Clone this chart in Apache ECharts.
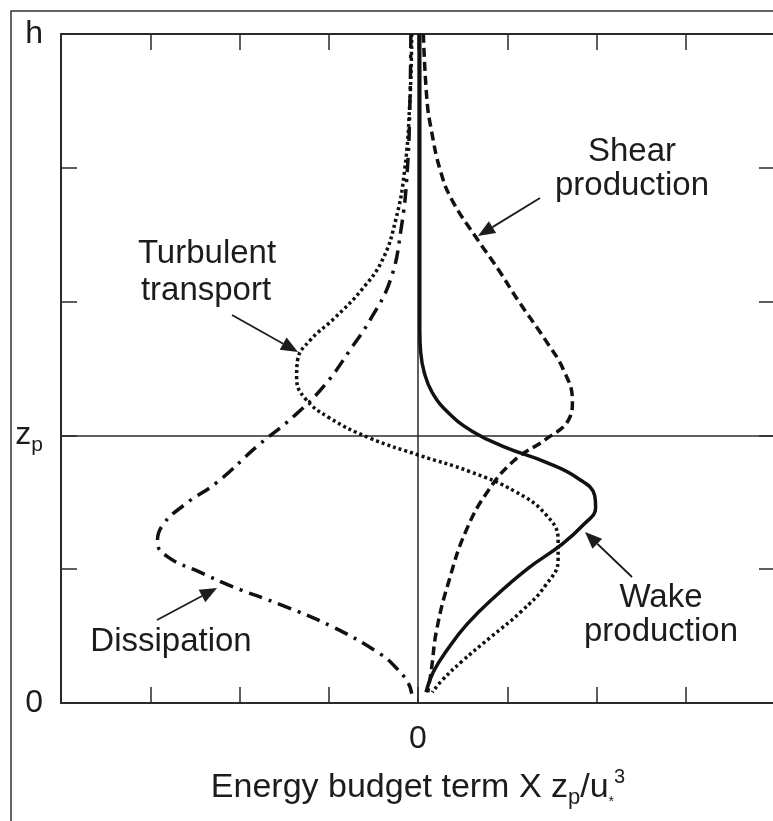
<!DOCTYPE html>
<html>
<head>
<meta charset="utf-8">
<script src="https://cdn.jsdelivr.net/npm/echarts@6/dist/echarts.min.js"></script>
<style>
html,body{margin:0;padding:0;background:#fff;}
#chart{width:773px;height:821px;}
</style>
</head>
<body>
<div id="chart"></div>
<script>
// ---- Data (energy budget term x zp/u*^3 vs height) ----
var wakeX  = [0.02, 0.02, 0.02, 0.03, 0.07, 0.16, 0.34, 0.61, 0.98, 1.43, 1.79, 1.98, 1.99, 1.85, 1.60, 1.24, 0.87, 0.55, 0.33, 0.17, 0.09];
var wakeY  = [5.00, 3.76, 2.79, 2.62, 2.47, 2.32, 2.17, 2.03, 1.91, 1.80, 1.68, 1.55, 1.46, 1.33, 1.18, 1.01, 0.80, 0.59, 0.40, 0.23, 0.08];

var shearX = [0.06, 0.10, 0.15, 0.25, 0.38, 0.64, 0.90, 1.12, 1.43, 1.63, 1.73, 1.69, 1.43, 1.09, 0.79, 0.54, 0.35, 0.21, 0.15, 0.11];
var shearY = [5.00, 4.51, 4.28, 3.98, 3.76, 3.49, 3.24, 3.01, 2.71, 2.49, 2.26, 2.12, 1.97, 1.82, 1.59, 1.29, 0.92, 0.55, 0.25, 0.08];

var turbX  = [-0.07, -0.09, -0.15, -0.25, -0.40, -0.63, -0.93, -1.21, -1.35, -1.36, -1.27, -0.99, -0.54, 0.02, 0.58, 1.09, 1.43, 1.57, 1.57, 1.43, 1.15, 0.81, 0.49, 0.27, 0.16];
var turbY  = [5.00, 4.51, 3.98, 3.61, 3.31, 3.09, 2.88, 2.71, 2.56, 2.43, 2.28, 2.13, 1.98, 1.85, 1.73, 1.58, 1.41, 1.22, 1.07, 0.88, 0.68, 0.49, 0.31, 0.17, 0.08];

var dissX  = [-0.08, -0.09, -0.12, -0.19, -0.31, -0.54, -0.76, -1.04, -1.38, -1.80, -2.25, -2.62, -2.86, -2.92, -2.80, -2.45, -2.08, -1.52, -0.96, -0.43, -0.24, -0.11, -0.07];
var dissY  = [5.00, 4.51, 3.98, 3.54, 3.16, 2.86, 2.64, 2.38, 2.15, 1.92, 1.65, 1.48, 1.33, 1.20, 1.09, 0.98, 0.87, 0.73, 0.57, 0.37, 0.26, 0.15, 0.07];

var zpLevel = 2;          // height of z_p
var hLevel = 5;           // height h
var yTickLabels = {0: '0', 2: '{z|z}{p|p}', 5: 'h'};
var xTickLabels = {0: '0'};

function pairs(xs, ys) { return xs.map(function (x, i) { return [x, ys[i]]; }); }

var FONT = 'Liberation Sans, Arial, Helvetica, sans-serif';
var TXT = '#1c1c1c';
var AX = '#2a2a2a';

var chart = echarts.init(document.getElementById('chart'), null, {renderer: 'canvas'});

function arrow(x1, y1, x2, y2) {
  var ang = Math.atan2(y2 - y1, x2 - x1);
  var L = 17, W = 7;
  var bx = x2 - L * Math.cos(ang), by = y2 - L * Math.sin(ang);
  var px = -Math.sin(ang) * W, py = Math.cos(ang) * W;
  return [
    {type: 'line', shape: {x1: x1, y1: y1, x2: bx, y2: by}, style: {stroke: TXT, lineWidth: 1.8}, z: 100},
    {type: 'polygon', shape: {points: [[x2, y2], [bx + px, by + py], [bx - px, by - py]]}, style: {fill: TXT}, z: 100}
  ];
}

function label(text, x, y) {
  return {type: 'text', x: x, y: y, z: 100,
    style: {text: text, font: '33px ' + FONT, fill: TXT, align: 'center', verticalAlign: 'middle'}};
}

var graphics = [
  {type: 'rect', shape: {x: 11, y: 11, width: 800, height: 860}, style: {fill: 'none', stroke: '#333', lineWidth: 1.5}, z: 0},
  label('Shear', 632, 152), label('production', 632, 186),
  label('Turbulent', 207, 254), label('transport', 206, 291),
  label('Dissipation', 171, 642),
  label('Wake', 661, 598), label('production', 661, 632)
].concat(arrow(540, 198, 478, 236))
 .concat(arrow(232, 315, 298, 352))
 .concat(arrow(157, 620, 217, 588))
 .concat(arrow(632, 577, 585, 532));

var lineW = 3.5;
function curve(name, xs, ys, type) {
  return {
    name: name, type: 'line', data: pairs(xs, ys), smooth: 0.45, showSymbol: false, symbol: 'none',
    xAxisIndex: 0, yAxisIndex: 0, z: 10, animation: false,
    lineStyle: {color: '#111', width: lineW, type: type, cap: 'butt'}
  };
}

function frameAxis(extra) {
  var base = {
    type: 'value',
    axisLine: {show: true, onZero: false, lineStyle: {color: AX, width: 2}},
    axisTick: {show: true, inside: true, length: 16, lineStyle: {color: AX, width: 1.5}},
    splitLine: {show: false}, axisLabel: {show: false}
  };
  return Object.assign(base, extra);
}

var option = {
  animation: false,
  backgroundColor: '#fff',
  grid: {left: 61, width: 714, top: 34, bottom: 118, containLabel: false, outerBoundsMode: 'none'},
  xAxis: [
    frameAxis({min: -4, max: 4, interval: 1, position: 'bottom',
     axisLabel: {show: true, margin: 20, color: TXT, fontSize: 32, fontFamily: FONT,
       formatter: function (v) { return xTickLabels[v] !== undefined ? xTickLabels[v] : ''; }},
     name: '{a|Energy budget term X z}{sub|p}{a|/u}{star|*}{sup|3}',
     nameLocation: 'middle', nameGap: 64,
     nameTextStyle: {color: TXT, fontFamily: FONT, fontSize: 34,
       rich: {
         a: {fontSize: 34, fontFamily: FONT, color: TXT, lineHeight: 42},
         sub: {fontSize: 22, fontFamily: FONT, color: TXT, lineHeight: 18, verticalAlign: 'bottom'},
         star: {fontSize: 14, fontFamily: FONT, color: TXT, lineHeight: 16, verticalAlign: 'bottom'},
         sup: {fontSize: 20, fontFamily: FONT, color: TXT, lineHeight: 18, verticalAlign: 'top'}
       }}
    }),
    frameAxis({min: -4, max: 4, interval: 1, position: 'top'})
  ],
  yAxis: [
    frameAxis({min: 0, max: hLevel, interval: 1, position: 'left',
     axisLabel: {show: true, margin: 18, color: TXT, fontSize: 32, fontFamily: FONT,
       formatter: function (v) { return yTickLabels[v] !== undefined ? yTickLabels[v] : ''; },
       rich: {
         z: {fontSize: 32, fontFamily: FONT, color: TXT, lineHeight: 40},
         p: {fontSize: 21, fontFamily: FONT, color: TXT, lineHeight: 18, verticalAlign: 'bottom'}
       }}
    }),
    frameAxis({min: 0, max: hLevel, interval: 1, position: 'right'})
  ],
  series: [
    {type: 'line', data: [], xAxisIndex: 0, yAxisIndex: 0, z: 2,
     markLine: {silent: true, symbol: ['none', 'none'], animation: false, label: {show: false},
       lineStyle: {color: AX, width: 1.5, type: 'solid'},
       data: [{xAxis: 0}, {yAxis: zpLevel}]}},
    curve('Wake production', wakeX, wakeY, 'solid'),
    curve('Shear production', shearX, shearY, [9, 5]),
    curve('Turbulent transport', turbX, turbY, [3, 3]),
    curve('Dissipation', dissX, dissY, [14, 7, 3, 7])
  ],
  graphic: graphics
};
chart.setOption(option);
</script>
</body>
</html>
